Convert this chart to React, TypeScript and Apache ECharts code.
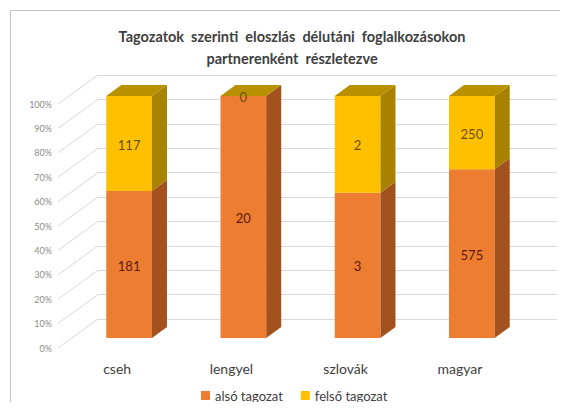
import React, { useEffect, useRef } from "react";
import * as echarts from "echarts";

const categories = ["cseh", "lengyel", "szlovák", "magyar"];
const alsoTagozat = [181, 20, 3, 575];
const felsoTagozat = [117, 0, 2, 250];
const yTicks = [0, 10, 20, 30, 40, 50, 60, 70, 80, 90, 100];
const seriesNames = ["alsó tagozat", "felső tagozat"];

const FONT = "Lato, 'Open Sans', sans-serif";
const DX = 15;
const DY = -11;

export default function App() {
  const ref = useRef<HTMLDivElement>(null);
  useEffect(() => {
    if (!ref.current) return;
    const chart = echarts.init(ref.current, null, { renderer: "svg" });

    const lowData = categories.map((_, i) => {
      const tot = alsoTagozat[i] + felsoTagozat[i];
      const p = (alsoTagozat[i] / tot) * 100;
      return [i, 0, p, 0, alsoTagozat[i]];
    });
    const highData = categories.map((_, i) => {
      const tot = alsoTagozat[i] + felsoTagozat[i];
      const p = (alsoTagozat[i] / tot) * 100;
      return [i, p, 100, 1, felsoTagozat[i]];
    });

    const makeBarRender =
      (front: string, side: string, top: string, labelColor: string) =>
      (params: any, api: any) => {
        const ci = api.value(0);
        const lo = api.value(1);
        const hi = api.value(2);
        const isTop = api.value(3);
        const raw = api.value(4);
        const bandW = api.size([1, 0])[0];
        const w = bandW * 0.4;
        const pLo = api.coord([ci, lo]);
        const pHi = api.coord([ci, hi]);
        const x0 = pLo[0] - w / 2;
        const x1 = pLo[0] + w / 2;
        const yLo = pLo[1];
        const yHi = pHi[1];
        const children: any[] = [
          {
            type: "rect",
            shape: { x: x0, y: yHi, width: w, height: yLo - yHi },
            style: { fill: front },
          },
          {
            type: "polygon",
            shape: {
              points: [
                [x1, yHi],
                [x1 + DX, yHi + DY],
                [x1 + DX, yLo + DY],
                [x1, yLo],
              ],
            },
            style: { fill: side },
          },
        ];
        if (isTop) {
          children.push({
            type: "polygon",
            shape: {
              points: [
                [x0, yHi],
                [x0 + DX, yHi + DY],
                [x1 + DX, yHi + DY],
                [x1, yHi],
              ],
            },
            style: { fill: top },
          });
        }
        children.push({
          type: "text",
          style: {
            text: String(raw),
            x: pLo[0],
            y: (yLo + yHi) / 2 + 1,
            align: "center",
            verticalAlign: "middle",
            fill: labelColor,
            font: `13px ${FONT}`,
          },
          z2: 10,
        });
        return { type: "group", children };
      };

    const option: any = {
      animation: false,
      backgroundColor: "#ffffff",
      title: {
        text: "Tagozatok  szerinti  eloszlás  délutáni  foglalkozásokon\npartnerenként  részletezve",
        left: 292,
        top: 25,
        padding: 0,
        textAlign: "center",
        textStyle: {
          fontFamily: FONT,
          fontSize: 14.5,
          fontWeight: "bold",
          color: "#404040",
          lineHeight: 22,
        },
      },
      legend: {
        data: seriesNames,
        left: 201,
        top: 389,
        padding: 0,
        itemWidth: 9,
        itemHeight: 9,
        itemGap: 18,
        icon: "rect",
        textStyle: { fontFamily: FONT, fontSize: 13, color: "#404040" },
      },
      graphic: [
        {
          type: "rect",
          shape: { x: 10.5, y: 10.5, width: 700, height: 600 },
          style: { fill: "none", stroke: "#c4c4c4", lineWidth: 1 },
          silent: true,
        },
      ],
      grid: [
        { left: 72, right: 39, top: 96, bottom: 72 },
        { left: 98, right: 11, top: 75, bottom: 91 },
      ],
      xAxis: [
        {
          type: "category",
          gridIndex: 0,
          data: categories,
          axisLine: { show: false },
          axisTick: { show: false },
          axisLabel: {
            margin: 23,
            fontFamily: FONT,
            fontSize: 14,
            color: "#404040",
            padding: [0, 24, 0, 0],
          },
        },
        {
          type: "value",
          gridIndex: 1,
          min: 0,
          max: 1,
          show: false,
        },
      ],
      yAxis: [
        {
          type: "value",
          gridIndex: 0,
          min: 0,
          max: 100,
          interval: 10,
          show: false,
        },
        {
          type: "value",
          gridIndex: 1,
          min: 0,
          max: 100,
          interval: 10,
          axisLine: { show: false },
          axisTick: { show: false },
          axisLabel: { show: false },
          splitLine: { show: true, lineStyle: { color: "#d9d9d9", width: 1 } },
        },
      ],
      series: [
        {
          type: "custom",
          name: "wall",
          xAxisIndex: 1,
          yAxisIndex: 1,
          data: yTicks.map((t) => [0, t]),
          encode: { x: 0, y: 1 },
          silent: true,
          z: 1,
          renderItem: (params: any, api: any) => {
            const v = api.value(1);
            const p = api.coord([0, v]);
            return {
              type: "group",
              children: [
                {
                  type: "line",
                  shape: { x1: p[0] - 40, y1: p[1] + 29, x2: p[0], y2: p[1] },
                  style: { stroke: "#d9d9d9", lineWidth: 1 },
                },
                {
                  type: "text",
                  style: {
                    text: v + "%",
                    x: p[0] - 46,
                    y: p[1] + 29,
                    align: "right",
                    verticalAlign: "middle",
                    fill: "#8c8c8c",
                    font: `9px ${FONT}`,
                  },
                },
              ],
            };
          },
        },
        {
          type: "custom",
          name: seriesNames[0],
          xAxisIndex: 0,
          yAxisIndex: 0,
          data: lowData,
          encode: { x: 0, y: [1, 2] },
          itemStyle: { color: "#ED7D31" },
          z: 3,
          renderItem: makeBarRender("#ED7D31", "#A3521D", "#B8860B", "#5C1A0A"),
        },
        {
          type: "custom",
          name: seriesNames[1],
          xAxisIndex: 0,
          yAxisIndex: 0,
          data: highData,
          encode: { x: 0, y: [1, 2] },
          itemStyle: { color: "#FFC000" },
          z: 3,
          renderItem: makeBarRender("#FFC000", "#A88200", "#B89000", "#6B4E00"),
        },
      ],
    };
    chart.setOption(option);
    return () => chart.dispose();
  }, []);
  return <div ref={ref} style={{ width: 568, height: 410, margin: -8 }} />;
}
